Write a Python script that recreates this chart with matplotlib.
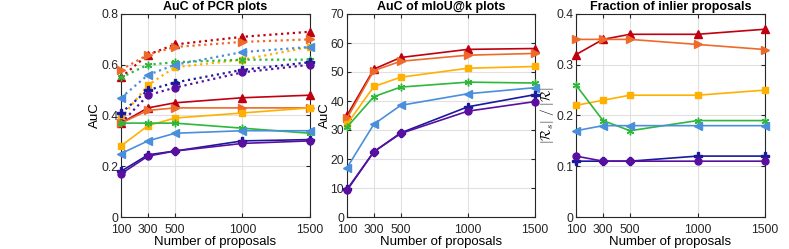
import matplotlib
matplotlib.use("Agg")
import matplotlib.pyplot as plt

plt.rcParams['font.family'] = ['Liberation Sans', 'DejaVu Sans']
plt.rcParams['mathtext.fontset'] = 'cm'

proposals = [100, 300, 500, 1000, 1500]
x_ticks = [100, 300, 500, 1000, 1500]

# Series order: red, orange, yellow, green, light blue, dark blue, purple
pcr_solid = [
    [0.37, 0.43, 0.45, 0.47, 0.48],
    [0.37, 0.42, 0.43, 0.43, 0.43],
    [0.28, 0.36, 0.39, 0.41, 0.43],
    [0.37, 0.37, 0.37, 0.35, 0.33],
    [0.25, 0.30, 0.33, 0.34, 0.34],
    [0.18, 0.245, 0.26, 0.30, 0.305],
    [0.17, 0.24, 0.26, 0.29, 0.30],
]
pcr_dotted = [
    [0.55, 0.64, 0.68, 0.71, 0.73],
    [0.58, 0.64, 0.67, 0.69, 0.70],
    [0.39, 0.52, 0.59, 0.62, 0.67],
    [0.55, 0.60, 0.61, 0.62, 0.62],
    [0.47, 0.56, 0.60, 0.65, 0.67],
    [0.41, 0.50, 0.53, 0.58, 0.61],
    [0.37, 0.48, 0.51, 0.57, 0.60],
]
miou = [
    [35, 51, 55, 57.8, 58.1],
    [34, 50.5, 53.7, 55.8, 56.4],
    [32, 45, 48.2, 51.3, 51.9],
    [31, 41.5, 44.8, 46.5, 46.2],
    [17, 32, 38.5, 42.5, 44.6],
    [9.5, 22.5, 29, 38, 42.2],
    [9.2, 22.5, 28.8, 36.5, 39.8],
]
inlier = [
    [0.32, 0.35, 0.36, 0.36, 0.37],
    [0.35, 0.35, 0.35, 0.34, 0.33],
    [0.22, 0.23, 0.24, 0.24, 0.25],
    [0.26, 0.19, 0.17, 0.19, 0.19],
    [0.17, 0.18, 0.18, 0.18, 0.18],
    [0.11, 0.11, 0.11, 0.12, 0.12],
    [0.12, 0.11, 0.11, 0.11, 0.11],
]

colors = ['#C00010', '#EE6A2A', '#FFB000', '#2DB83A', '#4A8FDB', '#1A1A9C', '#5A0FA0']
markers = ['^', '>', 's', (6, 2, 0), '<', 'P', 'o']
msizes = [5.5, 5.5, 4.5, 5.5, 5.5, 5.5, 5]

fig = plt.figure(figsize=(7.89, 2.49), dpi=100)
W, H = 789, 249
boxes = [(121, 310), (347, 535), (576, 765)]
top_px, bot_px = 14, 217
axes = []
for l, r in boxes:
    ax = fig.add_axes([l / W, (H - bot_px) / H, (r - l) / W, (bot_px - top_px) / H])
    axes.append(ax)

def style(ax, ylim, yticks, title, ylabel, yfmt=None):
    ax.set_xlim(100, 1500)
    ax.set_ylim(*ylim)
    ax.set_xticks(x_ticks)
    ax.set_yticks(yticks)
    if yfmt:
        ax.set_yticklabels([yfmt(v) for v in yticks])
    ax.grid(True, color='#e0e0e0', linewidth=0.8)
    ax.set_axisbelow(True)
    ax.set_title(title, fontsize=9, fontweight='bold', pad=3)
    ax.set_xlabel('Number of proposals', fontsize=9.5, labelpad=0)
    ax.set_ylabel(ylabel, fontsize=9.5, labelpad=0)
    ax.tick_params(labelsize=8.7, direction='in', length=3, colors='#262626',
                   top=True, right=True)
    ax.tick_params(axis='x', pad=5)
    ax.tick_params(axis='y', pad=2)
    for s in ax.spines.values():
        s.set_color('#262626')
        s.set_linewidth(0.8)

lw = 1.2
ax = axes[0]
for i in range(7):
    ax.plot(proposals, pcr_dotted[i], linestyle=':', color=colors[i], linewidth=1.6,
            marker=markers[i], markersize=msizes[i], clip_on=False, zorder=3)
for i in range(7):
    ax.plot(proposals, pcr_solid[i], linestyle='-', color=colors[i], linewidth=lw,
            marker=markers[i], markersize=msizes[i], clip_on=False, zorder=3)
style(ax, (0, 0.8), [0, 0.2, 0.4, 0.6, 0.8], 'AuC of PCR plots', 'AuC',
      lambda v: '0' if v == 0 else f'{v:.1f}')

ax = axes[1]
for i in range(7):
    ax.plot(proposals, miou[i], linestyle='-', color=colors[i], linewidth=lw,
            marker=markers[i], markersize=msizes[i], clip_on=False, zorder=3)
style(ax, (0, 70), list(range(0, 71, 10)), 'AuC of mIoU@k plots', 'AuC')

ax = axes[2]
for i in range(7):
    ax.plot(proposals, inlier[i], linestyle='-', color=colors[i], linewidth=lw,
            marker=markers[i], markersize=msizes[i], clip_on=False, zorder=3)
style(ax, (0, 0.4), [0, 0.1, 0.2, 0.3, 0.4], 'Fraction of inlier proposals',
      r'$|\mathcal{R}_s|\ /\ |\mathcal{R}|$', lambda v: '0' if v == 0 else f'{v:.1f}')

fig.savefig('out.png', dpi=100)
